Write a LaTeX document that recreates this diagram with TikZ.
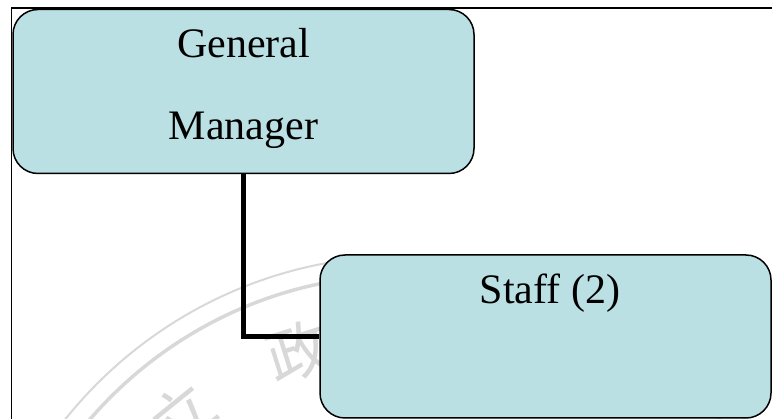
\documentclass[tikz,border=0pt]{standalone}
\usepackage{fontspec}
\setmainfont{Liberation Serif}
\newfontfamily\cjkfont{Noto Sans CJK TC}
\definecolor{boxfill}{RGB}{186,224,228}
\definecolor{wmark}{RGB}{216,216,216}
\tikzset{
  orgbox/.style={draw=black, line width=1.5pt, fill=boxfill, rounded corners=25pt, inner sep=0pt},
  bigtext/.style={font=\fontsize{42}{50}\selectfont, anchor=base, inner sep=0pt},
  wmchar/.style={text=wmark, font=\cjkfont\fontsize{62}{62}\selectfont, inner sep=0pt},
  conn/.style={line width=5pt, draw=black}
}
\begin{document}
\begin{tikzpicture}[x=1pt,y=-1pt]
\useasboundingbox (0,0) rectangle (772,419);
\begin{scope}
\clip (0,0) rectangle (772,419);
% outer frame
\draw[line width=1.6pt] (11.5,8) rectangle (790,440);
% watermark seal
\draw[wmark, line width=2pt] (405,691) circle[radius=435];
\draw[wmark, line width=3.5pt] (405,691) circle[radius=416];
\node[wmchar, rotate=39] (wm1) at (182,415) {立};
\node[wmchar, rotate=17.5] (wm2) at (298,352) {政};
% boxes
\node[orgbox, minimum width=461pt, minimum height=164pt] (gm) at (243.5,91.5) {};
\node[orgbox, minimum width=451pt, minimum height=163pt] (staff) at (545.5,336.5) {};
% texts
\node[bigtext] (gmt1) at (243.5,57.5) {General};
\node[bigtext] (gmt2) at (243.5,140) {Manager};
\node[bigtext] (stt) at (550,304) {Staff (2)};
% connector
\draw[conn] (gm.south) |- (staff.west);
\end{scope}
\end{tikzpicture}
\end{document}
